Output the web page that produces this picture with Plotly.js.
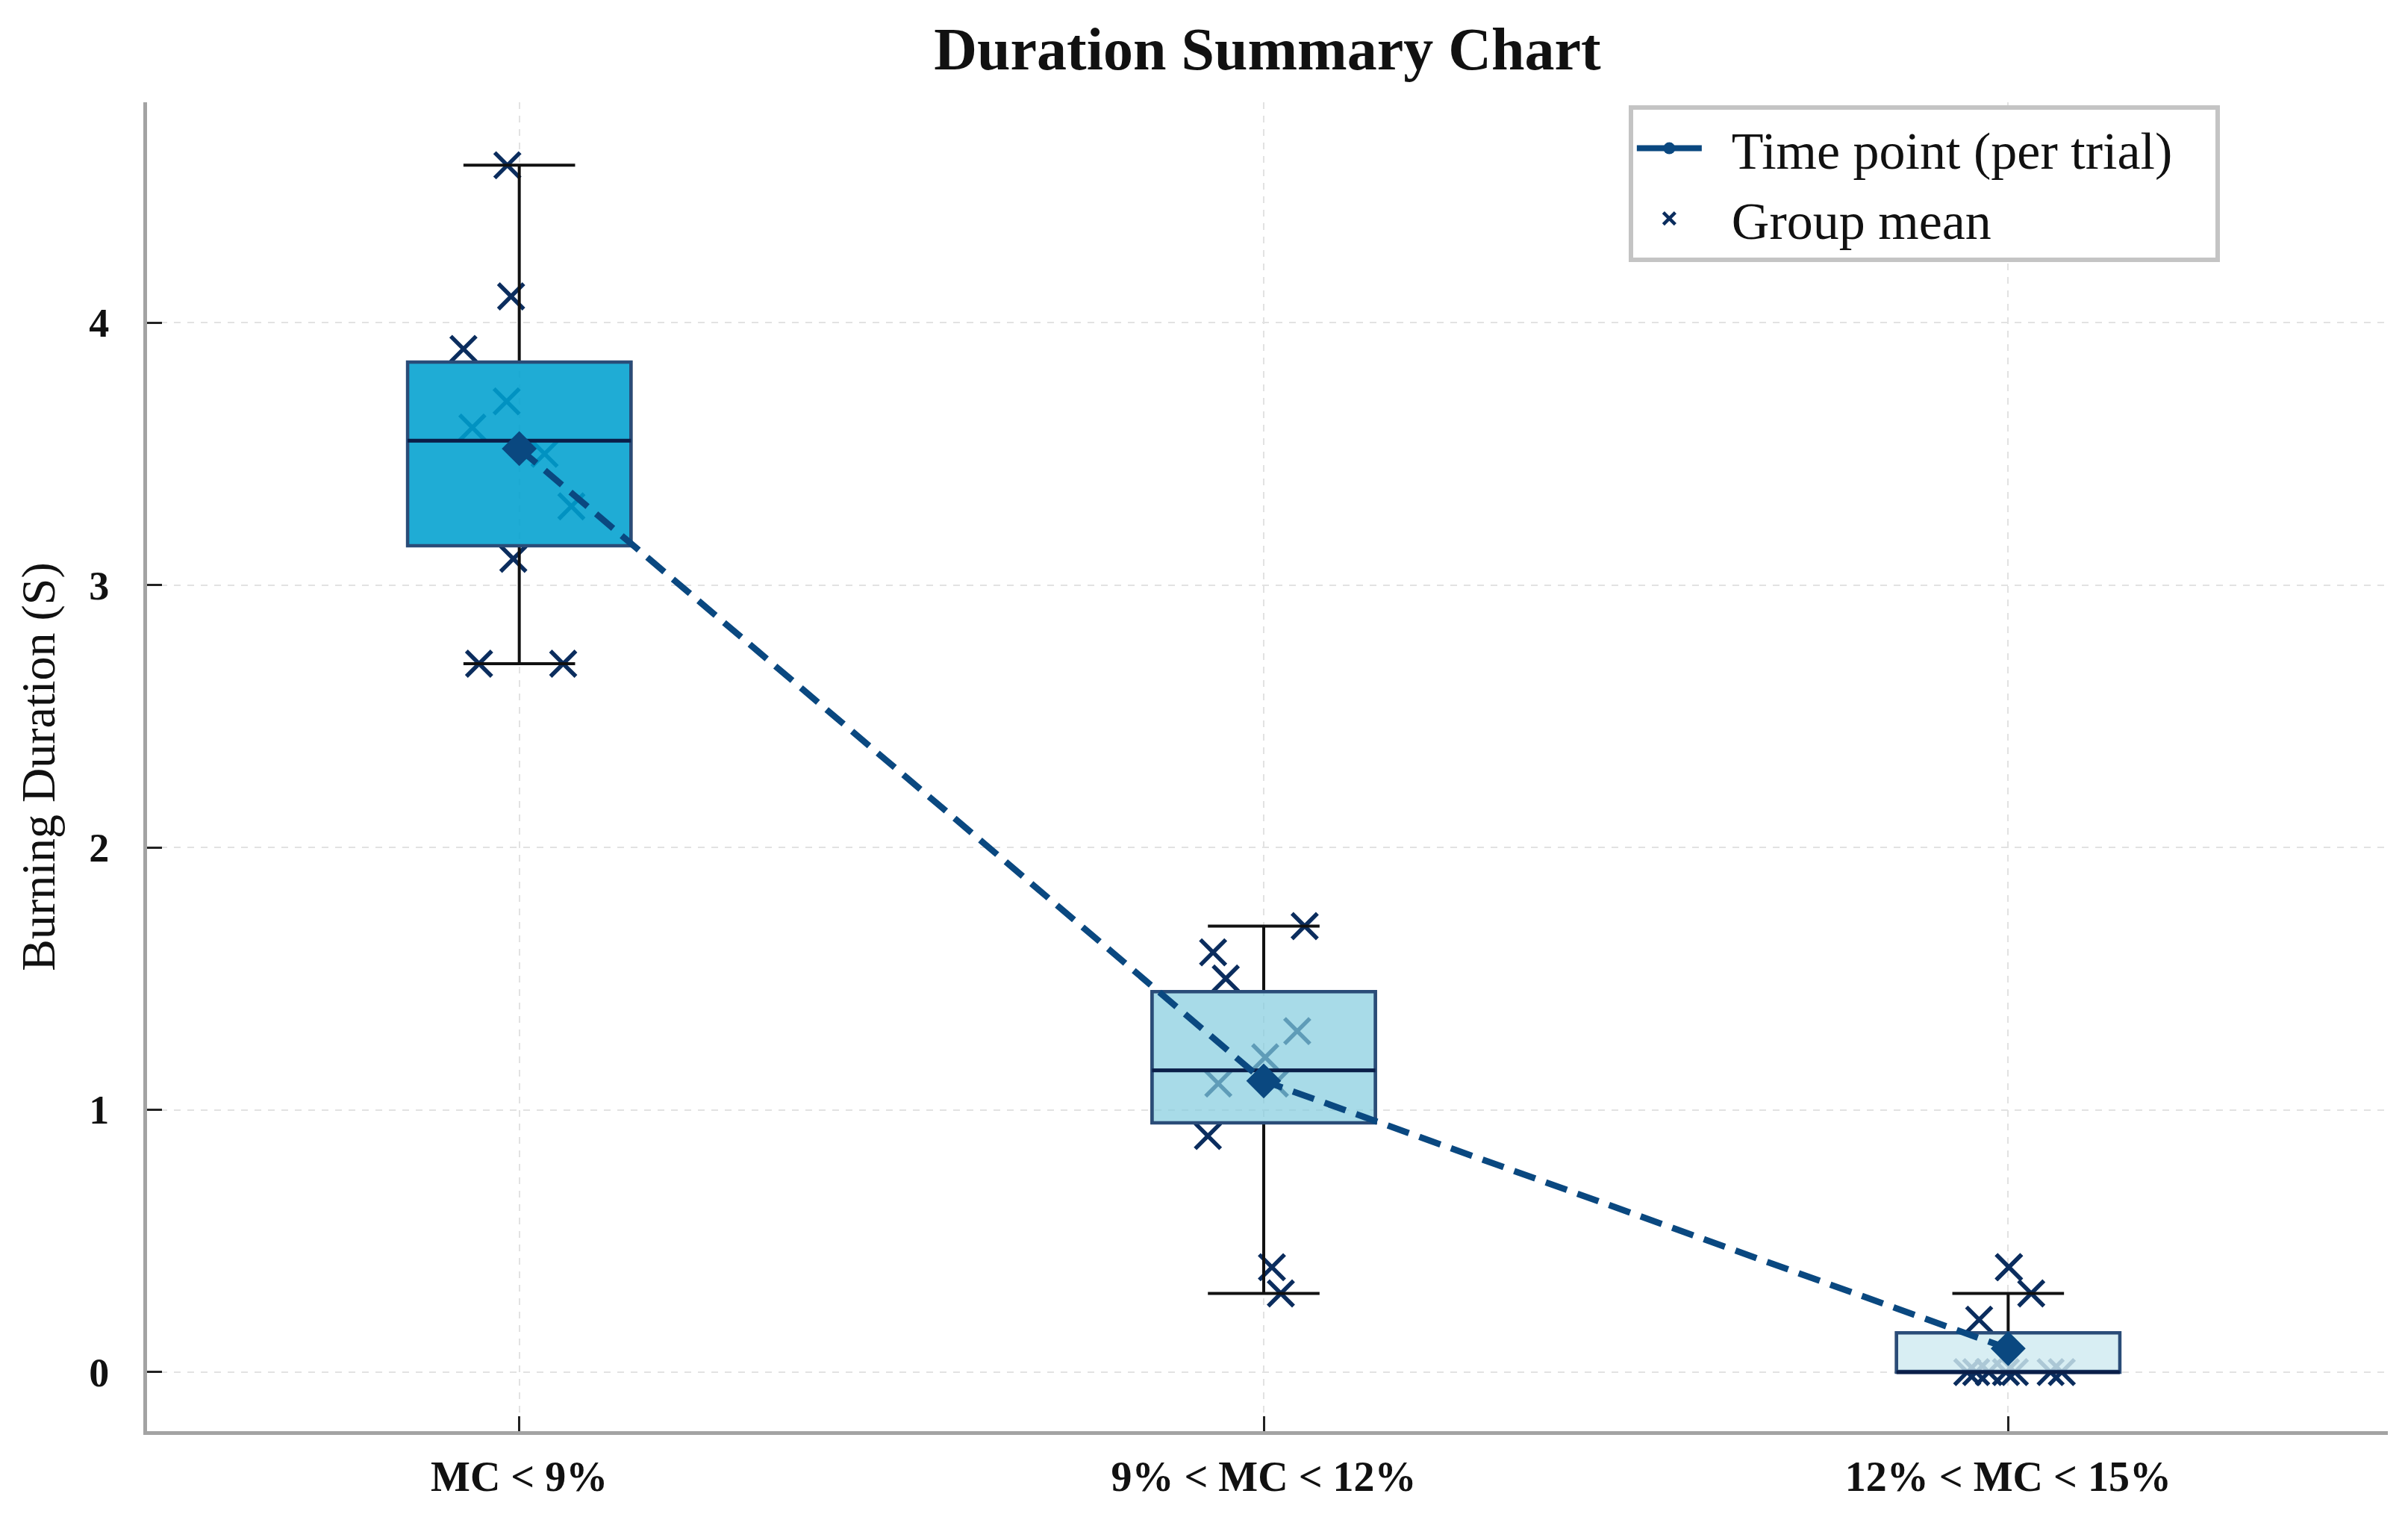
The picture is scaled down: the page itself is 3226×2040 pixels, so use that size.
<!DOCTYPE html>
<html>
<head>
<meta charset="utf-8">
<script src="https://cdn.plot.ly/plotly-3.0.1.min.js"></script>
<style>html,body{margin:0;padding:0;background:#fff;}#chart{width:3226px;height:2040px;}</style>
</head>
<body>
<div id="chart"></div>
<script>
// ---- data ----
const categories = ['MC < 9%', '9% < MC < 12%', '12% < MC < 15%'];
const group1 = [4.6, 4.1, 3.9, 3.7, 3.6, 3.5, 3.3, 3.1, 2.7, 2.7];
const jitter1 = [-0.016, -0.011, -0.075, -0.017, -0.063, 0.034, 0.070, -0.008, -0.054, 0.059];
const group2 = [1.7, 1.6, 1.5, 1.3, 1.2, 1.1, 1.1, 0.9, 0.4, 0.3];
const jitter2 = [0.055, -0.068, -0.051, 0.045, 0.002, -0.061, 0.015, -0.075, 0.011, 0.023];
const group3 = [0.4, 0.3, 0.2, 0, 0, 0, 0, 0, 0, 0];
const jitter3 = [0.001, 0.031, -0.039, -0.055, -0.043, -0.026, -0.003, 0.009, 0.057, 0.072];
const yTicks = [0, 1, 2, 3, 4];
const legendNames = ['Time point (per trial)', 'Group mean'];

// ---- styles ----
const groups = [group1, group2, group3];
const jitters = [jitter1, jitter2, jitter3];
const boxFills = ['rgba(0,160,207,0.88)', 'rgba(131,204,222,0.7)', 'rgba(207,234,240,0.82)'];
const navy = '#0b2d5e';
const meanColor = '#0a4880';
const serif = 'Liberation Serif, Times New Roman, serif';
const padName = n => '\u00a0\u00a0' + n + '\u00a0\u00a0\u00a0';

function quantile(arr, p) {
  const s = arr.slice().sort((a, b) => a - b);
  const pos = (s.length - 1) * p;
  const lo = Math.floor(pos), hi = Math.ceil(pos);
  return s[lo] + (s[hi] - s[lo]) * (pos - lo);
}
const stats = groups.map(g => {
  const q1 = quantile(g, 0.25), med = quantile(g, 0.5), q3 = quantile(g, 0.75);
  const iqr = q3 - q1;
  const inside = g.filter(v => v >= q1 - 1.5 * iqr && v <= q3 + 1.5 * iqr);
  const lf = Math.min(...inside), uf = Math.max(...inside);
  const mean = g.reduce((a, b) => a + b, 0) / g.length;
  const out = g.filter(v => v < lf || v > uf);
  return {q1, med, q3, lf, uf, mean, out};
});

const xMarker = {symbol: 'x-thin', size: 34, color: navy, line: {color: navy, width: 5.5}};
const traces = [];
// individual trials (below the boxes)
const px = [], py = [];
groups.forEach((g, i) => g.forEach((v, k) => { px.push(i + jitters[i][k]); py.push(v); }));
traces.push({
  type: 'scatter', mode: 'markers', x: px, y: py, xaxis: 'x', yaxis: 'y',
  marker: xMarker, showlegend: false, hoverinfo: 'skip'
});
// whiskers (black)
traces.push({
  type: 'box', x: [0, 1, 2], xaxis: 'x2', yaxis: 'y2',
  q1: stats.map(s => s.q1), median: stats.map(s => s.med), q3: stats.map(s => s.q3),
  lowerfence: stats.map(s => s.lf), upperfence: stats.map(s => s.uf),
  width: 0.3, whiskerwidth: 0.5, boxpoints: false,
  line: {color: '#111111', width: 4}, fillcolor: 'rgba(0,0,0,0)',
  showlegend: false, hoverinfo: 'skip'
});
// box bodies
stats.forEach((s, i) => {
  traces.push({
    type: 'box', x: [i], xaxis: 'x2', yaxis: 'y2',
    q1: [s.q1], median: [s.med], q3: [s.q3], lowerfence: [s.q1], upperfence: [s.q3],
    width: 0.3, whiskerwidth: 0, boxpoints: false,
    line: {color: '#2a4c78', width: 4.5}, fillcolor: boxFills[i],
    showlegend: false, hoverinfo: 'skip'
  });
});
// median lines
traces.push({
  type: 'box', x: [0, 1, 2], xaxis: 'x2', yaxis: 'y2',
  q1: stats.map(s => s.med), median: stats.map(s => s.med), q3: stats.map(s => s.med),
  lowerfence: stats.map(s => s.med), upperfence: stats.map(s => s.med),
  width: 0.3, whiskerwidth: 0, boxpoints: false,
  line: {color: '#0a1e48', width: 5}, fillcolor: 'rgba(0,0,0,0)',
  showlegend: false, hoverinfo: 'skip'
});
// fliers
const fx = [], fy = [];
stats.forEach((s, i) => s.out.forEach(v => {
  const k = groups[i].indexOf(v); fx.push(i + jitters[i][k]); fy.push(v);
}));
traces.push({
  type: 'scatter', mode: 'markers', x: fx, y: fy, xaxis: 'x2', yaxis: 'y2',
  marker: xMarker, showlegend: false, hoverinfo: 'skip'
});
// mean line
traces.push({
  type: 'scatter', mode: 'lines+markers', x: [0, 1, 2], y: stats.map(s => s.mean),
  xaxis: 'x2', yaxis: 'y2',
  line: {color: meanColor, width: 8.5, dash: '30px,15px'},
  marker: {symbol: 'diamond', size: 36, color: meanColor},
  showlegend: false, hoverinfo: 'skip'
});
// legend entries
traces.push({
  type: 'scatter', mode: 'lines+markers', x: [null], y: [null], name: padName(legendNames[0]),
  line: {color: meanColor, width: 8}, marker: {symbol: 'circle', size: 16, color: meanColor}
});
traces.push({
  type: 'scatter', mode: 'markers', x: [null], y: [null], name: padName(legendNames[1]),
  marker: {symbol: 'x-thin', size: 16, color: navy, line: {color: navy, width: 4.5}}
});

const xr = [-0.5, 2.51], yr = [-0.225, 4.84];
const layout = {
  width: 3226, height: 2040,
  margin: {l: 197, r: 27, t: 137, b: 123},
  paper_bgcolor: '#ffffff', plot_bgcolor: '#ffffff',
  title: {text: 'Duration Summary Chart', x: 0.5, xref: 'paper', y: 0.968, yref: 'container', yanchor: 'middle',
          font: {family: serif, size: 80, color: '#111', weight: 'bold'}},
  xaxis: {
    range: xr, tickvals: [0, 1, 2], ticktext: categories,
    showline: true, linecolor: '#a3a3a3', linewidth: 5, mirror: false,
    ticks: 'inside', ticklen: 20, tickwidth: 3, tickcolor: '#222',
    showgrid: true, gridcolor: '#e2e2e2', griddash: 'dash', gridwidth: 2,
    zeroline: false, ticklabelstandoff: 8,
    tickfont: {family: serif, size: 56, color: '#111', weight: 'bold'}
  },
  yaxis: {
    range: yr, tickvals: yTicks,
    showline: true, linecolor: '#a3a3a3', linewidth: 5, mirror: false,
    ticks: 'inside', ticklen: 20, tickwidth: 3, tickcolor: '#222',
    showgrid: true, gridcolor: '#e2e2e2', griddash: 'dash', gridwidth: 2,
    zeroline: false, ticklabelstandoff: 35,
    tickfont: {family: serif, size: 54, color: '#111', weight: 'bold'},
    title: {text: 'Burning Duration (S)', standoff: 26, font: {family: serif, size: 64, color: '#111'}}
  },
  xaxis2: {overlaying: 'x', matches: 'x', range: xr, visible: false},
  yaxis2: {overlaying: 'y', matches: 'y', range: yr, visible: false},
  showlegend: true,
  legend: {
    x: 0.925, xanchor: 'right', y: 0.998, yanchor: 'top',
    bgcolor: '#ffffff', bordercolor: '#c4c4c4', borderwidth: 6,
    font: {family: serif, size: 70, color: '#111'}, itemwidth: 87
  }
};
Plotly.newPlot('chart', traces, layout, {staticPlot: true});
</script>
</body>
</html>
